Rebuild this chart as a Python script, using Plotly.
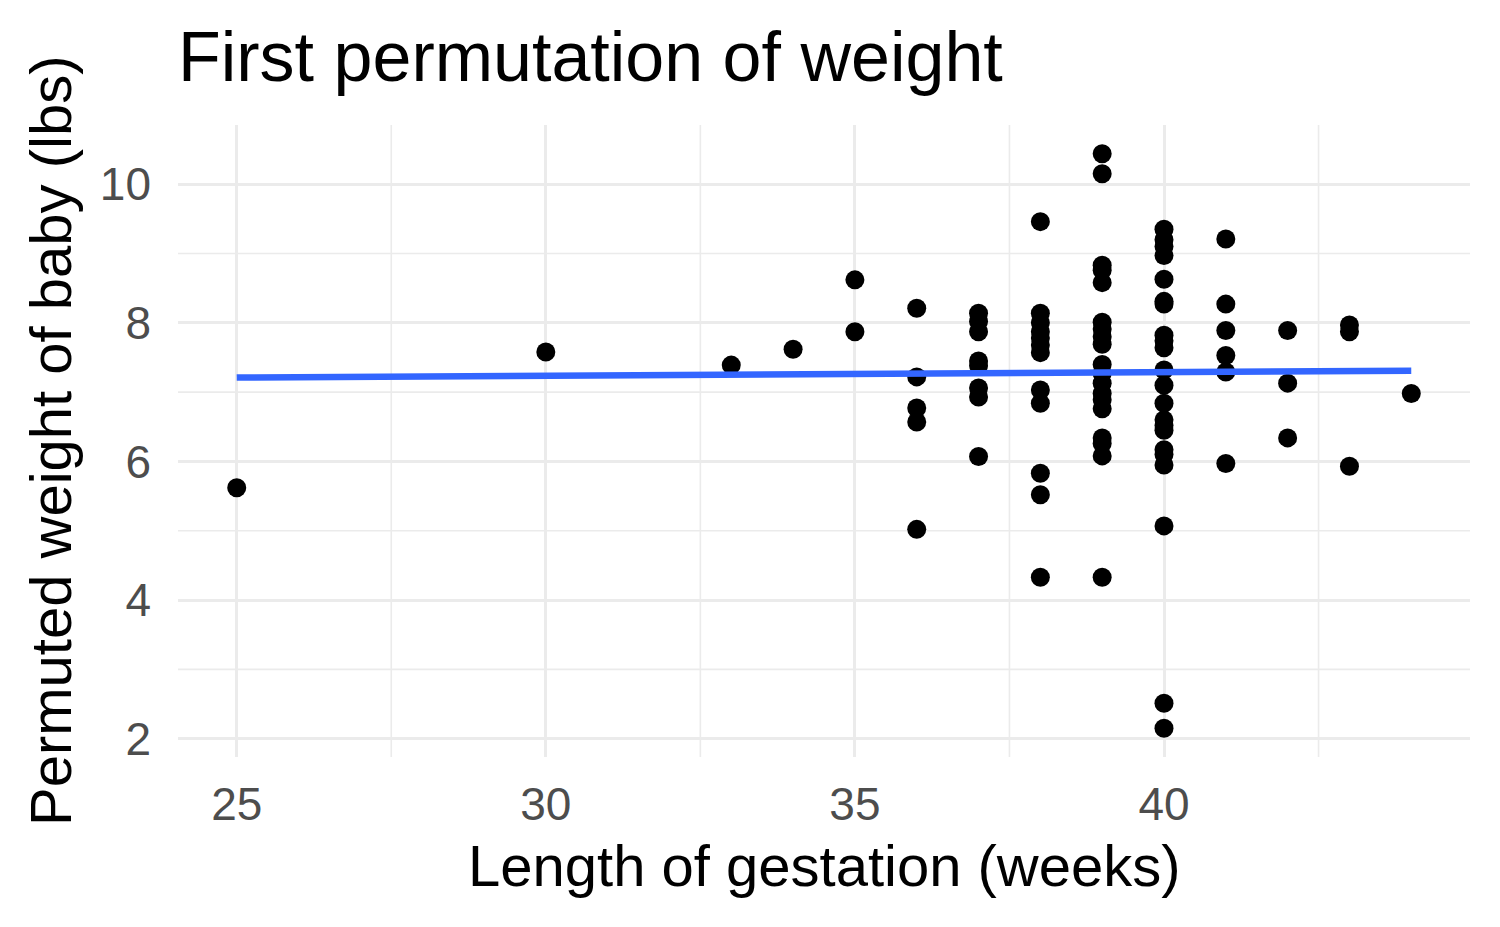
import numpy as np
import plotly.graph_objects as go

gestation = [25, 30, 33, 34, 35, 35,
             36, 36, 36, 36, 36,
             37, 37, 37, 37, 37, 37, 37, 37,
             38, 38, 38, 38, 38, 38, 38, 38, 38, 38, 38, 38,
             39, 39, 39, 39, 39, 39, 39, 39, 39, 39,
             39, 39, 39, 39, 39, 39, 39, 39, 39,
             40, 40, 40, 40, 40, 40, 40, 40, 40, 40, 40,
             40, 40, 40, 40, 40, 40, 40, 40, 40, 40, 40,
             41, 41, 41, 41, 41, 41,
             42, 42, 42,
             43, 43, 43,
             44]
weight = [5.62, 7.58, 7.39, 7.62, 8.62, 7.87,
          8.21, 7.22, 6.77, 6.57, 5.02,
          8.14, 8.02, 7.87, 7.45, 7.38, 7.06, 6.93, 6.07,
          9.46, 8.14, 8.00, 7.87, 7.78, 7.68, 7.57, 7.03, 6.84, 5.83, 5.52, 4.33,
          10.44, 10.15, 8.83, 8.76, 8.58, 8.01, 7.91, 7.80, 7.69, 7.40,
          7.27, 7.13, 6.98, 6.89, 6.76, 6.34, 6.26, 6.08, 4.33,
          9.35, 9.20, 9.10, 8.97, 8.63, 8.31, 8.27, 7.82, 7.74, 7.64, 7.32,
          7.10, 6.84, 6.60, 6.52, 6.45, 6.17, 6.10, 5.95, 5.07, 2.51, 2.15,
          9.21, 8.27, 7.89, 7.53, 7.29, 5.97,
          7.89, 7.13, 6.34,
          7.97, 7.87, 5.93,
          6.98]

# fitted linear trend (full data set not all visible)
fit_x = [25, 44]
fit_y = [7.21, 7.31]

x_ticks = [25, 30, 35, 40]
y_ticks = [2, 4, 6, 8, 10]
minor_x = [27.5, 32.5, 37.5, 42.5]
minor_y = [3, 5, 7, 9]

title_text = "First permutation of weight"
x_title = "Length of gestation (weeks)"
y_title = "Permuted weight of baby (lbs)"

gx = np.array(gestation, dtype=float)
wy = np.array(weight, dtype=float)
xr = [gx.min() - 0.05 * (gx.max() - gx.min()), gx.max() + 0.05 * (gx.max() - gx.min())]
yr = [wy.min() - 0.05 * (wy.max() - wy.min()), wy.max() + 0.05 * (wy.max() - wy.min())]

fig = go.Figure()

shapes = []
for mx in minor_x:
    shapes.append(dict(type="line", xref="x", yref="paper", x0=mx, x1=mx, y0=0, y1=1,
                       line=dict(color="#EBEBEB", width=1.6), layer="below"))
for my in minor_y:
    shapes.append(dict(type="line", xref="paper", yref="y", x0=0, x1=1, y0=my, y1=my,
                       line=dict(color="#EBEBEB", width=1.6), layer="below"))

fig.add_trace(go.Scatter(x=gestation, y=weight, mode="markers",
                         marker=dict(color="black", size=19, line=dict(width=0)),
                         showlegend=False, hoverinfo="x+y"))
fig.add_trace(go.Scatter(x=fit_x, y=fit_y, mode="lines",
                         line=dict(color="#3366FF", width=6.5),
                         showlegend=False))

# page has an 8px body margin; compensate
L, R, T, B = 170, 38, 117, 178
W, H = 1500, 927

annotations = [
    dict(text=x_title, xref="paper", yref="paper", x=0.5, y=-(857 - (H - B)) / (H - T - B),
         xanchor="center", yanchor="middle", showarrow=False,
         font=dict(size=58, color="black")),
    dict(text=y_title, xref="paper", yref="paper", x=-(L - 42) / (W - L - R), y=0.5,
         xanchor="center", yanchor="middle", textangle=-90, showarrow=False,
         font=dict(size=58, color="black")),
]

fig.update_layout(
    width=W, height=H,
    paper_bgcolor="white", plot_bgcolor="white",
    margin=dict(l=L, r=R, t=T, b=B, autoexpand=False),
    font=dict(family="Liberation Sans, Arial, sans-serif"),
    title=dict(text=title_text, x=L / W, xanchor="left", y=1 - 48 / H, yanchor="middle",
               font=dict(size=70, color="black")),
    shapes=shapes,
    annotations=annotations,
    xaxis=dict(range=xr, tickvals=x_ticks, ticktext=[str(t) for t in x_ticks],
               showgrid=True, gridcolor="#EBEBEB", gridwidth=3.2, zeroline=False,
               showline=False, ticks="", tickfont=dict(size=46, color="#4D4D4D"),
               ticklabelstandoff=16, automargin=False),
    yaxis=dict(range=yr, tickvals=y_ticks, ticktext=[str(t) for t in y_ticks],
               showgrid=True, gridcolor="#EBEBEB", gridwidth=3.2, zeroline=False,
               showline=False, ticks="", tickfont=dict(size=46, color="#4D4D4D"),
               ticklabelstandoff=26, automargin=False),
)

fig.write_html("out.html")
